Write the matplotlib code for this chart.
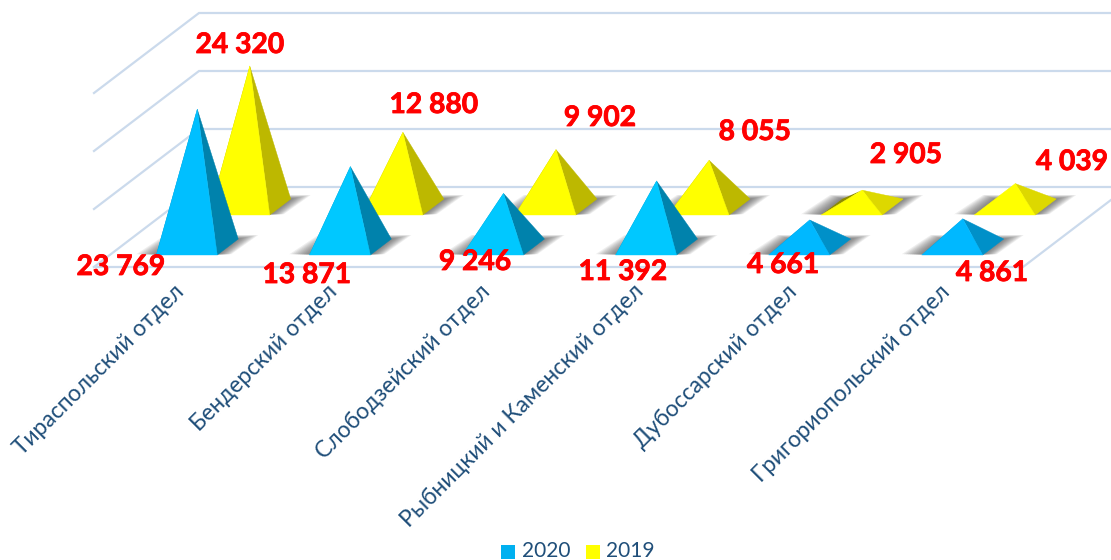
# 3d-looking pyramid chart, faked with a small oblique projection

import matplotlib
matplotlib.use("Agg")
import matplotlib.pyplot as plt
import matplotlib.patheffects as pe
from matplotlib.patches import Polygon, Rectangle

plt.rcParams['font.family'] = ['Lato', 'DejaVu Sans']

# Data
categories = ['Тираспольский отдел', 'Бендерский отдел', 'Слободзейский отдел',
              'Рыбницкий и Каменский отдел', 'Дубоссарский отдел', 'Григориопольский отдел']
values_2020 = [23769, 13871, 9246, 11392, 4661, 4861]
values_2019 = [24320, 12880, 9902, 8055, 2905, 4039]
grid_values = [0, 10000, 20000, 30000]

# Label centres, placed by hand in the original as well
labels_2020_pos = [(121, 267), (307, 275), (475, 262), (623, 272), (783, 265), (992, 273)]
labels_2019_pos = [(240, 45), (434, 105), (600, 118), (755, 132), (906, 155), (1072, 162)]

# Projection parameters (pixels)
floor_left = 94
floor_right = 1023
floor_y = 267
depth_dx = 105
depth_dy = 80
value_scale = 0.0058
cat_start = 171
cat_step = 153.1
half_width = 30.5
half_depth = 0.1

GRID = '#CBDAEC'
TEXT = '#1F4E79'
RED = '#FF0000'


def project(x, depth, value=0):
    """Floor x + depth (0 front, 1 back) + value -> pixel position."""
    return x + depth * depth_dx, floor_y - depth * depth_dy - value * value_scale


def fmt(v):
    return f'{v:,}'.replace(',', ' ')


def draw_shadow(ax, fl, fr, br, bl, z):
    # stacked see-through shapes make a soft edge
    for spread in range(20, 0, -2):
        lift = spread * 0.2
        ax.add_patch(Polygon([(fl[0] - spread, fl[1] - lift * 0.2), (fr[0] + spread * 0.7, fr[1] - lift * 0.2),
                              (br[0] + spread, br[1] - lift), (bl[0] - spread * 0.6, bl[1] - lift)],
                             closed=True, fc='#404040', ec='none', alpha=0.085, zorder=z))


def draw_pyramid(ax, i, depth, value, front, side, left):
    x = cat_start + i * cat_step
    fl = project(x - half_width, depth - half_depth)
    fr = project(x + half_width, depth - half_depth)
    br = project(x + half_width, depth + half_depth)
    bl = project(x - half_width, depth + half_depth)
    apex = project(x, depth, value)
    z = 3 if depth > 0.5 else 6
    draw_shadow(ax, fl, fr, br, bl, z)
    ax.add_patch(Polygon([fl, bl, apex], closed=True, fc=left, ec='none', zorder=z + 0.1))
    ax.add_patch(Polygon([fr, br, apex], closed=True, fc=side, ec=side, lw=0.3, zorder=z + 0.2))
    ax.add_patch(Polygon([fl, fr, apex], closed=True, fc=front, ec=front, lw=0.3, zorder=z + 0.3))


fig = plt.figure(figsize=(11.11, 5.60), dpi=100)
ax = fig.add_axes([0, 0, 1, 1])
ax.set_xlim(0, 1111)
ax.set_ylim(560, 0)
ax.axis('off')

# Walls and floor
for v in grid_values:
    x0, y0 = project(floor_left, 0, v)
    x1, y1 = project(floor_left, 1, v)
    ax.plot([x0, x1, 1111], [y0, y1, y1], color=GRID, lw=1.6, zorder=1, solid_joinstyle='miter')
fx0, fy0 = project(floor_left, 0)
fx1, fy1 = project(floor_right, 0)
bx, by = project(floor_right, 1)
ax.plot([fx0, fx1, bx], [fy0, fy1, by], color=GRID, lw=1.6, zorder=1, solid_joinstyle='miter')

# Pyramids, back row first
for i, v in enumerate(values_2019):
    side = '#BDB800' if v > 6000 else '#DDD800'
    draw_pyramid(ax, i, 0.75, v, '#FFFF00', side, '#8C8A00')
for i, v in enumerate(values_2020):
    front = '#00BFFF' if v > 20000 else ('#00C8FF' if v > 6000 else '#00B8FF')
    side = '#0082AC' if v > 6000 else '#0090C8'
    draw_pyramid(ax, i, 0.25, v, front, side, '#006A90')

# Value labels
heavy = [pe.withStroke(linewidth=0.6, foreground=RED)]
for v, (x, y) in zip(values_2020, labels_2020_pos):
    ax.text(x, y, fmt(v), color=RED, fontsize=20.3, fontweight='bold', ha='center', va='center',
            zorder=10, path_effects=heavy)
for v, (x, y) in zip(values_2019, labels_2019_pos):
    ax.text(x, y, fmt(v), color=RED, fontsize=20.3, fontweight='bold', ha='center', va='center',
            zorder=10, path_effects=heavy)

# Category labels
for i, name in enumerate(categories):
    ax.text(173 + i * 153.2, 281, name, color=TEXT, fontsize=16.4, rotation=45,
            rotation_mode='anchor', ha='right', va='top', zorder=10)

# Legend
for x, color, label, tx in [(501, '#00B0F0', '2020', 522), (586, '#FFFF00', '2019', 606)]:
    ax.add_patch(Rectangle((x, 545), 14, 14, fc=color, ec='none'))
    ax.text(tx, 551, label, color=TEXT, fontsize=15, ha='left', va='center')

fig.savefig('out.png', dpi=100)
